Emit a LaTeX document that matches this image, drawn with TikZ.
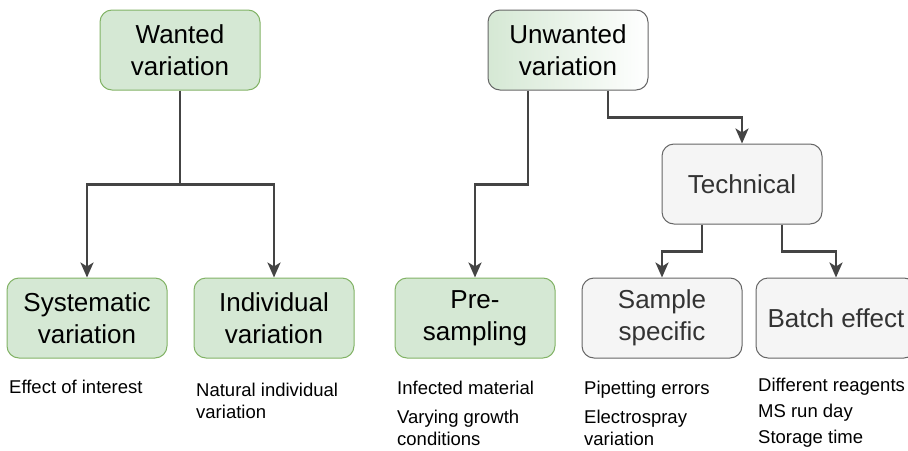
\documentclass[tikz,border=0pt]{standalone}
\usepackage{fontspec}
\setmainfont{Liberation Sans}
\usetikzlibrary{arrows.meta}

\definecolor{greenfill}{HTML}{D5E8D4}
\definecolor{greenline}{HTML}{82B366}
\definecolor{grayfill}{HTML}{F5F5F5}
\definecolor{grayline}{HTML}{666666}
\definecolor{graytext}{HTML}{333333}
\definecolor{connline}{HTML}{444444}

\tikzset{
  box/.style={rounded corners=12pt, minimum width=160pt, minimum height=80pt,
    inner sep=2pt, align=center, line width=1pt,
    font=\fontsize{26}{31.5}\selectfont},
  greenbox/.style={box, draw=greenline, fill=greenfill},
  graybox/.style={box, draw=grayline, fill=grayfill, text=graytext},
  mixbox/.style={box, draw=grayline, left color=greenfill, right color=white},
  note/.style={anchor=base west, inner sep=0pt, font=\fontsize{18.5}{22}\selectfont},
  conn/.style={draw=connline, line width=2.6pt,
    -{Stealth[length=15pt, width=13pt, inset=4pt]}},
}

\begin{document}
\begin{tikzpicture}[x=1pt, y=-1pt]
  \useasboundingbox (0,0) rectangle (908,450);
  \clip (0,0) rectangle (908,450);

  % top level
  \node[greenbox] (wanted) at (180,50) {Wanted\\variation};
  \node[mixbox]   (unwanted) at (568,50) {Unwanted\\variation};
  \node[graybox]  (tech) at (742,184) {Technical};

  % bottom level
  \node[greenbox] (syst)  at (87,318)  {Systematic\\variation};
  \node[greenbox] (indiv) at (274,318) {Individual\\variation};
  \node[greenbox] (pre)   at (475,318) {Pre-\\sampling};
  \node[graybox]  (samp)  at (662,318) {Sample\\specific};
  \node[graybox]  (batch) at (836,318) {Batch effect};

  % connectors
  \draw[conn] (wanted.south) -- ++(0,94) coordinate (wsplit) -| (syst.north);
  \draw[conn] (wsplit) -| (indiv.north);
  \draw[conn] ([xshift=-40pt]unwanted.south) -- ++(0,94) -| (pre.north);
  \draw[conn] ([xshift=40pt]unwanted.south) -- ++(0,27) -| (tech.north);
  \draw[conn] ([xshift=-40pt]tech.south) -- ++(0,27) -| (samp.north);
  \draw[conn] ([xshift=40pt]tech.south) -- ++(0,27) -| (batch.north);

  % notes under the boxes
  \node[note] (n1) at (9,393) {Effect of interest};

  \node[note] (n2a) at (196,396) {Natural individual};
  \node[note] (n2b) at (196,418) {variation};

  \node[note] (n3a) at (397,394) {Infected material};
  \node[note] (n3b) at (397,423) {Varying growth};
  \node[note] (n3c) at (397,445) {conditions};

  \node[note] (n4a) at (584,394) {Pipetting errors};
  \node[note] (n4b) at (584,423) {Electrospray};
  \node[note] (n4c) at (584,445) {variation};

  \node[note] (n5a) at (758,391) {Different reagents};
  \node[note] (n5b) at (758,417) {MS run day};
  \node[note] (n5c) at (758,443) {Storage time};
\end{tikzpicture}
\end{document}
